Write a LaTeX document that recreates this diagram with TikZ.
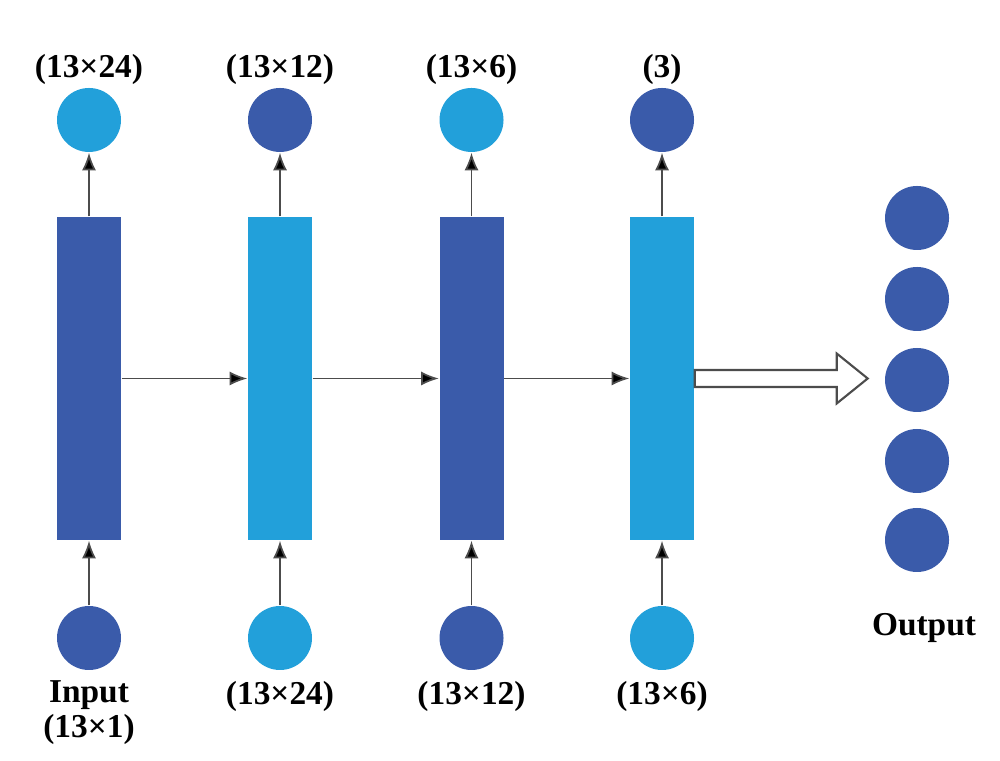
\documentclass[tikz,border=0pt]{standalone}
\usepackage{fontspec}
\setmainfont{Liberation Serif}
\usetikzlibrary{arrows.meta, positioning}
\definecolor{darkblue}{HTML}{3A5BAA}
\definecolor{lightblue}{HTML}{22A0DA}

\begin{document}
\begin{tikzpicture}[
  layer/.style={rectangle, minimum width=0.64cm, minimum height=3.23cm, inner sep=0pt},
  unit/.style={circle, minimum size=0.64cm, inner sep=0pt},
  lbl/.style={font=\fontsize{9.5}{9.8}\selectfont\bfseries, align=center, inner sep=1pt},
  arr/.style={-{Latex[length=5pt,width=4pt,fill=black]}, draw=black!70, line width=0.5pt},
  bigarr/.style={draw=black!70, fill=white, line width=0.6pt, line join=miter}
]
\useasboundingbox (0,0) rectangle (10,7.6);

% layers
\node[layer, fill=darkblue]  (l1) at (0.89,3.815) {};
\node[layer, fill=lightblue] (l2) at (2.80,3.815) {};
\node[layer, fill=darkblue]  (l3) at (4.715,3.815) {};
\node[layer, fill=lightblue] (l4) at (6.62,3.815) {};

% input units
\node[unit, fill=darkblue]  (in1) at (0.89,1.22) {};
\node[unit, fill=lightblue] (in2) at (2.80,1.22) {};
\node[unit, fill=darkblue]  (in3) at (4.715,1.22) {};
\node[unit, fill=lightblue] (in4) at (6.62,1.22) {};

% output units of each layer
\node[unit, fill=lightblue] (out1) at (0.89,6.40) {};
\node[unit, fill=darkblue]  (out2) at (2.80,6.40) {};
\node[unit, fill=lightblue] (out3) at (4.715,6.40) {};
\node[unit, fill=darkblue]  (out4) at (6.62,6.40) {};

% final output
\foreach \i/\y in {1/5.42, 2/4.61, 3/3.80, 4/2.99, 5/2.20}
  \node[unit, fill=darkblue] (o\i) at (9.17,\y) {};

% labels
\node[lbl, above=-0.02cm of out1] (t1) {(13×24)};
\node[lbl, above=-0.02cm of out2] (t2) {(13×12)};
\node[lbl, above=-0.02cm of out3] (t3) {(13×6)};
\node[lbl, above=-0.02cm of out4] (t4) {(3)};
\node[lbl, below=0.06cm of in1]  (b1) {Input\\(13×1)};
\node[lbl, below=0.06cm of in2]  (b2) {(13×24)};
\node[lbl, below=0.06cm of in3]  (b3) {(13×12)};
\node[lbl, below=0.06cm of in4]  (b4) {(13×6)};
\node[lbl] (outlbl) at (9.24,1.32) {Output};

% connectors
\draw[arr] (in1) -- (l1);
\draw[arr] (in2) -- (l2);
\draw[arr] (in3) -- (l3);
\draw[arr] (in4) -- (l4);
\draw[arr] (l1) -- (out1);
\draw[arr] (l2) -- (out2);
\draw[arr] (l3) -- (out3);
\draw[arr] (l4) -- (out4);
\draw[arr] (l1.east) -- (l2.west);
\draw[arr] (l2.east) -- (l3.west);
\draw[arr] (l3.east) -- (l4.west);

% hollow arrow to output
\draw[bigarr] (l4.east) ++(0,0.085) -- ++(1.42,0) -- ++(0,0.165)
  -- ++(0.31,-0.25) -- ++(-0.31,-0.25) -- ++(0,0.165) -- ++(-1.42,0) -- cycle;
\end{tikzpicture}
\end{document}
